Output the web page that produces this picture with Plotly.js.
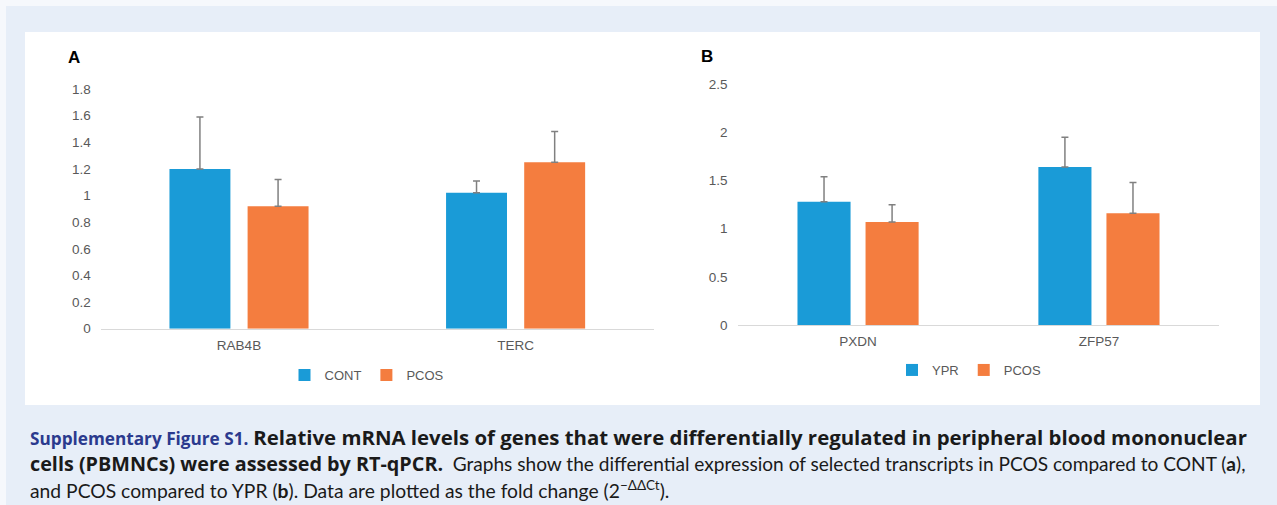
<!DOCTYPE html>
<html>
<head>
<meta charset="utf-8">
<script src="https://cdn.plot.ly/plotly-3.0.1.min.js"></script>
<style>
html,body{margin:0;padding:0;background:#f6f8fc;}
#chart{width:1277px;height:505px;}
</style>
</head>
<body>
<div id="chart"></div>
<script>
// Panel A data
const genesA = ["RAB4B", "TERC"];
const contA = [1.20, 1.02];
const contErrA = [0.39, 0.09];
const pcosA = [0.92, 1.25];
const pcosErrA = [0.20, 0.23];
const yTicksA = [0, 0.2, 0.4, 0.6, 0.8, 1, 1.2, 1.4, 1.6, 1.8];

// Panel B data
const genesB = ["PXDN", "ZFP57"];
const yprB = [1.28, 1.64];
const yprErrB = [0.26, 0.31];
const pcosB = [1.07, 1.16];
const pcosErrB = [0.18, 0.32];
const yTicksB = [0, 0.5, 1, 1.5, 2, 2.5];

const BLUE = "#1a9bd7";
const ORANGE = "#f47d3f";
const ERR = "#808080";
const TICK = "#595959";
const FONT = "Liberation Sans, Arial, sans-serif";

function errSpec(arr) {
  return {type: "data", symmetric: false, array: arr, arrayminus: arr.map(() => 0),
          color: ERR, thickness: 1.5, width: 3.5};
}

const traces = [
  {type: "bar", name: "CONT", x: genesA, y: contA, marker: {color: BLUE},
   error_y: errSpec(contErrA), xaxis: "x", yaxis: "y", legend: "legend"},
  {type: "bar", name: "PCOS", x: genesA, y: pcosA, marker: {color: ORANGE},
   error_y: errSpec(pcosErrA), xaxis: "x", yaxis: "y", legend: "legend"},
  {type: "bar", name: "YPR", x: genesB, y: yprB, marker: {color: BLUE},
   error_y: errSpec(yprErrB), xaxis: "x2", yaxis: "y2", legend: "legend2"},
  {type: "bar", name: "PCOS", x: genesB, y: pcosB, marker: {color: ORANGE},
   error_y: errSpec(pcosErrB), xaxis: "x2", yaxis: "y2", legend: "legend2"}
];

const W = 1277, H = 505;
const px = v => v / W;
const py = v => (H - v) / H;

const xCommon = {
  showline: true, linecolor: "#d9d9d9", linewidth: 1, ticks: "",
  showgrid: false, zeroline: false, fixedrange: true,
  tickfont: {family: FONT, size: 13.5, color: TICK}, ticklabelstandoff: 4
};
const yCommon = {
  showline: false, showgrid: false, zeroline: false, ticks: "",
  tickfont: {family: FONT, size: 13.5, color: TICK}, ticklabelstandoff: 9,
  fixedrange: true
};

const capFont = "Lato, 'Open Sans', sans-serif";
const BOLD1 = "font-family:'Open Sans';font-weight:bold;font-size:20.4px";
const BOLD2 = "font-family:'Open Sans';font-weight:bold;font-size:19.8px";
const HEAD = "color:#2b3a8e;font-family:'Open Sans';font-weight:bold;font-size:17.2px";

const layout = {
  width: W, height: H,
  margin: {l: 0, r: 0, t: 0, b: 0},
  paper_bgcolor: "#f6f8fc",
  plot_bgcolor: "rgba(0,0,0,0)",
  barmode: "group",
  bargap: 0.435,
  bargroupgap: 0.22,
  showlegend: true,
  xaxis: Object.assign({}, xCommon, {domain: [px(100.7), px(653.9)], anchor: "y"}),
  yaxis: Object.assign({}, yCommon, {domain: [py(328.7), py(89)], range: [0, 1.8],
          tickvals: yTicksA, anchor: "x"}),
  xaxis2: Object.assign({}, xCommon, {domain: [px(737.6), px(1219.4)], anchor: "y2"}),
  yaxis2: Object.assign({}, yCommon, {domain: [py(325), py(84.3)], range: [0, 2.5],
          tickvals: yTicksB, anchor: "x2"}),
  legend: {orientation: "h", x: px(367), y: py(375), xanchor: "center", yanchor: "middle",
           bgcolor: "rgba(0,0,0,0)", font: {family: FONT, size: 13, color: TICK},
           itemwidth: 30, traceorder: "normal"},
  legend2: {orientation: "h", x: px(969), y: py(370), xanchor: "center", yanchor: "middle",
           bgcolor: "rgba(0,0,0,0)", font: {family: FONT, size: 13, color: TICK},
           itemwidth: 30, traceorder: "normal"},
  shapes: [
    {type: "rect", xref: "paper", yref: "paper", x0: px(6), x1: 1, y0: 0, y1: py(6),
     fillcolor: "#e7eef8", line: {width: 0}, layer: "below"},
    {type: "rect", xref: "paper", yref: "paper", x0: px(25), x1: px(1260), y0: py(405), y1: py(32),
     fillcolor: "#ffffff", line: {width: 0}, layer: "below"}
  ],
  annotations: [
    {xref: "paper", yref: "paper", x: px(66), y: py(58), xanchor: "left", yanchor: "middle",
     text: "<b>A</b>", showarrow: false, font: {family: FONT, size: 17, color: "#000"}},
    {xref: "paper", yref: "paper", x: px(699), y: py(57), xanchor: "left", yanchor: "middle",
     text: "<b>B</b>", showarrow: false, font: {family: FONT, size: 17, color: "#000"}},
    {xref: "paper", yref: "paper", x: px(28), y: py(437), xanchor: "left", yanchor: "middle",
     align: "left", showarrow: false, font: {family: capFont, size: 19.1, color: "#1a1a1a"},
     text: "<span style=\"" + HEAD + "\">Supplementary Figure S1.</span> <span style=\"" + BOLD1 + "\">Relative mRNA levels of genes that were differentially regulated in peripheral blood mononuclear</span>"},
    {xref: "paper", yref: "paper", x: px(28), y: py(463), xanchor: "left", yanchor: "middle",
     align: "left", showarrow: false, font: {family: capFont, size: 19.1, color: "#1a1a1a"},
     text: "<span style=\"" + BOLD2 + "\">cells (PBMNCs) were assessed by RT-qPCR.</span>\u2002Graphs show the differential expression of selected transcripts in PCOS compared to CONT (<b>a</b>),"},
    {xref: "paper", yref: "paper", x: px(28), y: py(489), xanchor: "left", yanchor: "middle",
     align: "left", showarrow: false, font: {family: capFont, size: 19.3, color: "#1a1a1a"},
     text: "and PCOS compared to YPR (<b>b</b>). Data are plotted as the fold change (2<sup>−ΔΔCt</sup>)."}
  ]
};

Plotly.newPlot("chart", traces, layout, {displayModeBar: false, staticPlot: true});
</script>
</body>
</html>
